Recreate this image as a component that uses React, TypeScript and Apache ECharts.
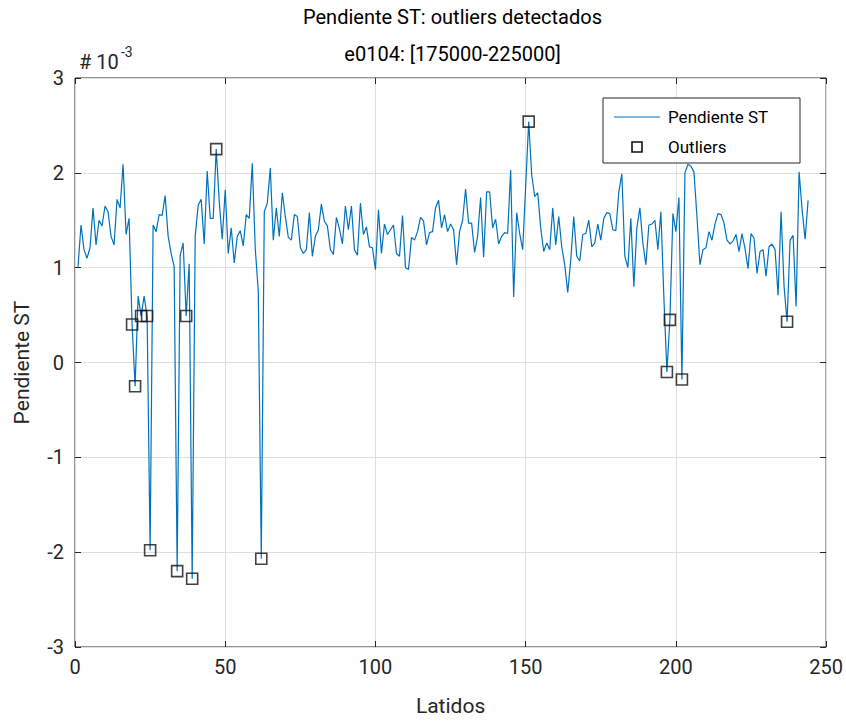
import React, { useEffect, useRef } from "react";
import * as echarts from "echarts";

// Pendiente ST (x 10^-3) per latido, latidos 1..244
const pendienteST: number[] = [
  1.01, 1.45, 1.19, 1.10, 1.21, 1.63, 1.24, 1.50, 1.44, 1.65,
  1.59, 1.33, 1.24, 1.72, 1.63, 2.09, 1.35, 1.52, 0.40, -0.25,
  0.70, 0.49, 0.70, 0.49, -1.98, 1.45, 1.38, 1.56, 1.55, 1.76,
  1.33, 1.15, 1.01, -2.20, 1.13, 1.26, 0.49, 1.04, -2.28, 1.33,
  1.66, 1.72, 1.25, 2.02, 1.52, 1.52, 2.25, 1.70, 1.30, 1.82,
  1.15, 1.42, 1.05, 1.33, 1.39, 1.23, 1.56, 1.52, 2.10, 1.20,
  0.75, -2.07, 1.59, 1.68, 2.05, 1.29, 1.63, 1.33, 1.79, 1.54,
  1.32, 1.29, 1.56, 1.54, 1.21, 1.15, 1.19, 1.58, 1.12, 1.33,
  1.40, 1.67, 1.49, 1.44, 1.19, 1.14, 1.53, 1.41, 1.25, 1.65,
  1.40, 1.65, 1.19, 1.13, 1.68, 1.35, 1.43, 1.22, 1.21, 0.98,
  1.61, 1.15, 1.46, 1.35, 1.40, 1.45, 1.15, 1.12, 1.55, 1.00,
  0.98, 1.32, 1.29, 1.38, 1.53, 1.49, 1.24, 1.37, 1.38, 1.63,
  1.71, 1.42, 1.56, 1.38, 1.46, 1.40, 1.03, 1.38, 1.50, 1.83,
  1.47, 1.47, 1.16, 1.33, 1.74, 1.11, 1.80, 1.80, 1.42, 1.51,
  1.25, 1.33, 1.37, 1.36, 2.03, 0.69, 1.58, 1.36, 1.19, 1.86,
  2.54, 1.98, 1.75, 1.79, 1.42, 1.17, 1.26, 1.19, 1.63, 1.24,
  1.54, 1.22, 1.03, 0.74, 1.08, 1.54, 1.12, 1.07, 1.35, 1.36,
  1.50, 1.22, 1.26, 1.46, 1.29, 1.52, 1.58, 1.57, 1.40, 1.39,
  1.80, 1.99, 1.12, 1.00, 1.52, 0.80, 1.42, 1.63, 1.26, 1.03,
  1.45, 1.46, 1.50, 1.19, 1.59, 0.68, -0.10, 0.45, 1.57, 1.38,
  1.74, -0.18, 2.00, 2.09, 2.07, 2.01, 1.54, 1.03, 1.19, 1.21,
  1.38, 1.29, 1.46, 1.57, 1.56, 1.47, 1.29, 1.25, 1.28, 1.35,
  1.17, 1.36, 1.20, 0.99, 1.36, 1.31, 0.94, 1.17, 1.19, 0.91,
  1.22, 1.25, 1.19, 0.71, 1.59, 0.80, 0.43, 1.29, 1.34, 0.59,
  2.01, 1.61, 1.30, 1.71,
];

// Latidos (1-based) flagged as outliers
const outlierLatidos: number[] = [19, 20, 22, 24, 25, 34, 37, 39, 47, 62, 151, 197, 198, 202, 237];

const titleLines = ["Pendiente ST: outliers detectados", "e0104: [175000-225000]"];
const legendNames = ["Pendiente ST", "Outliers"];
const xTitle = "Latidos";
const yTitle = "Pendiente ST";
const yExponentBase = "# 10";
const yExponent = "-3";

const FONT = "Roboto, 'Noto Sans', sans-serif";

export default function App() {
  const ref = useRef<HTMLDivElement>(null);

  useEffect(() => {
    if (!ref.current) return;
    const chart = echarts.init(ref.current, undefined, { renderer: "svg" });

    const lineData = pendienteST.map((v, i) => [i + 1, v]);
    const outlierData = outlierLatidos.map((l) => [l, pendienteST[l - 1]]);

    const gridL = 75, gridT = 78, gridW = 755, gridH = 570;

    const tick = { show: true, inside: true, length: 6, lineStyle: { color: "#262626", width: 1 } };
    const noLine = { show: false, onZero: false };

    chart.setOption({
      animation: false,
      backgroundColor: "#ffffff",
      grid: {
        left: gridL, top: gridT, width: gridW, height: gridH,
        show: true, borderColor: "#262626", borderWidth: 1, backgroundColor: "transparent",
      },
      xAxis: [
        {
          type: "value",
          position: "bottom",
          min: 0, max: 250, interval: 50,
          axisLine: noLine,
          axisTick: tick,
          axisLabel: { color: "#262626", fontSize: 20, fontFamily: FONT, margin: 10 },
          splitLine: { show: true, lineStyle: { color: "#dedede", width: 1 } },
          name: xTitle,
          nameLocation: "middle",
          nameGap: 48,
          nameTextStyle: { color: "#262626", fontSize: 21, fontFamily: FONT },
        },
        {
          type: "value",
          position: "top",
          min: 0, max: 250, interval: 50,
          axisLine: noLine,
          axisTick: tick,
          axisLabel: { show: false },
          splitLine: { show: false },
        },
      ],
      yAxis: [
        {
          type: "value",
          position: "left",
          min: -3, max: 3, interval: 1,
          axisLine: noLine,
          axisTick: tick,
          axisLabel: { color: "#262626", fontSize: 20, fontFamily: FONT, margin: 11 },
          splitLine: { show: true, lineStyle: { color: "#dedede", width: 1 } },
          name: yTitle,
          nameLocation: "middle",
          nameGap: 43,
          nameRotate: 90,
          nameTextStyle: { color: "#262626", fontSize: 21, fontFamily: FONT },
        },
        {
          type: "value",
          position: "right",
          min: -3, max: 3, interval: 1,
          axisLine: noLine,
          axisTick: tick,
          axisLabel: { show: false },
          splitLine: { show: false },
        },
      ],
      series: [
        {
          name: legendNames[0],
          type: "line",
          data: lineData,
          showSymbol: false,
          symbol: "none",
          lineStyle: { color: "#0072BD", width: 1.2 },
          itemStyle: { color: "#0072BD" },
          z: 3,
        },
        {
          name: legendNames[1],
          type: "scatter",
          data: outlierData,
          symbol: "rect",
          symbolSize: 11,
          itemStyle: { color: "rgba(0,0,0,0)", borderColor: "#111111", borderWidth: 1.6 },
          z: 4,
        },
      ],
      graphic: [
        {
          type: "text",
          x: gridL + gridW / 2, y: 7,
          style: { text: titleLines[0], fontSize: 20, fontFamily: FONT, fill: "#000", align: "center", verticalAlign: "top" },
        },
        {
          type: "text",
          x: gridL + gridW / 2, y: 44,
          style: { text: titleLines[1], fontSize: 20, fontFamily: FONT, fill: "#000", align: "center", verticalAlign: "top" },
        },
        {
          type: "text", x: 79, y: 52,
          style: { text: yExponentBase, fontSize: 20, fontFamily: FONT, fill: "#262626", verticalAlign: "top" },
        },
        {
          type: "text", x: 121, y: 45,
          style: { text: yExponent, fontSize: 14, fontFamily: FONT, fill: "#262626", verticalAlign: "top" },
        },
        {
          type: "rect",
          shape: { x: 603, y: 98, width: 197, height: 65 },
          style: { fill: "#ffffff", stroke: "#262626", lineWidth: 1 },
          z: 10,
        },
        {
          type: "line",
          shape: { x1: 614, y1: 117, x2: 660, y2: 117 },
          style: { stroke: "#0072BD", lineWidth: 1.2 },
          z: 11,
        },
        {
          type: "text", x: 668, y: 117,
          style: { text: legendNames[0], fontSize: 17, fontFamily: FONT, fill: "#000", verticalAlign: "middle" },
          z: 11,
        },
        {
          type: "rect",
          shape: { x: 632, y: 142, width: 10, height: 10 },
          style: { fill: "none", stroke: "#111111", lineWidth: 1.6 },
          z: 11,
        },
        {
          type: "text", x: 668, y: 147,
          style: { text: legendNames[1], fontSize: 17, fontFamily: FONT, fill: "#000", verticalAlign: "middle" },
          z: 11,
        },
      ],
    });

    return () => chart.dispose();
  }, []);

  return (
    <div
      ref={ref}
      style={{ position: "fixed", left: 0, top: 0, width: 846, height: 721, background: "#fff" }}
    />
  );
}
